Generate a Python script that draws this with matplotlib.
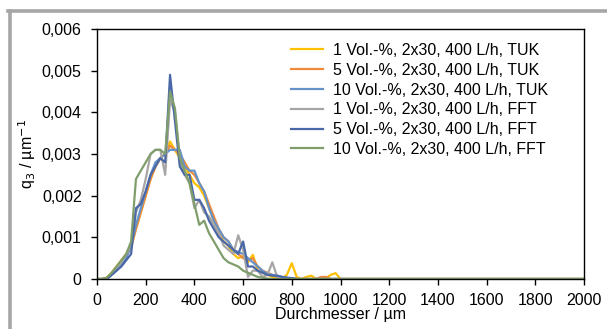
import matplotlib
matplotlib.use("Agg")
import matplotlib.pyplot as plt
from matplotlib.ticker import FuncFormatter, MultipleLocator
from matplotlib.lines import Line2D

plt.rcParams['font.family'] = ['Liberation Sans', 'DejaVu Sans']

# Durchmesser grid (µm)
x = [0, 20, 40, 60, 80, 100, 120, 140, 160, 180, 200, 220, 240, 260, 280, 300,
     320, 340, 360, 380, 400, 420, 440, 460, 480, 500, 520, 540, 560, 580, 600,
     620, 640, 660, 680, 700, 720, 740, 760, 780, 800, 820, 840, 860, 880, 900,
     920, 940, 960, 980, 1000, 2000]

tuk_1 = [0, 0, 0.00003, 0.00015, 0.0003, 0.00045, 0.0006, 0.0008, 0.0012, 0.0016,
         0.002, 0.0024, 0.0027, 0.0029, 0.003, 0.0033, 0.0031, 0.0029, 0.0027, 0.0025,
         0.0023, 0.0022, 0.002, 0.0017, 0.0014, 0.0011, 0.0009, 0.0008, 0.0006, 0.0005,
         0.00055, 0.0004, 0.00058, 0.0002, 0.00015, 0.0001, 0.00005, 0, 0.00002, 0.0001,
         0.00038, 0.00005, 0, 0.00005, 0.00008, 0, 0, 0.00002, 0.0001, 0.00014, 0, 0]
tuk_5 = [0, 0, 0.00003, 0.00012, 0.00025, 0.0004, 0.00055, 0.00075, 0.0012, 0.0016,
         0.002, 0.0024, 0.0027, 0.0029, 0.003, 0.0032, 0.0031, 0.003, 0.0028, 0.0026,
         0.0025, 0.0023, 0.0021, 0.0018, 0.0015, 0.0012, 0.001, 0.0009, 0.0007, 0.0006,
         0.0005, 0.00045, 0.0005, 0.0003, 0.0002, 0.00015, 0.0001, 0.00005, 0.00003, 0.00002,
         0.00002, 0, 0, 0, 0, 0, 0.00005, 0.00005, 0, 0, 0, 0]
tuk_10 = [0, 0, 0, 0.0001, 0.0002, 0.00035, 0.0005, 0.0008, 0.0013, 0.0017,
          0.0021, 0.0025, 0.0028, 0.0029, 0.003, 0.0031, 0.0031, 0.0031, 0.0027, 0.0026,
          0.0026, 0.0023, 0.0021, 0.0017, 0.0014, 0.0012, 0.001, 0.0009, 0.0007, 0.00065,
          0.0006, 0.0005, 0.0004, 0.0003, 0.0002, 0.00012, 0.0001, 0.00008, 0.00005, 0.00003,
          0.00002, 0, 0, 0, 0, 0, 0, 0, 0, 0, 0, 0]
fft_1 = [0, 0, 0, 0.0001, 0.00025, 0.0004, 0.0006, 0.0008, 0.0016, 0.0019,
         0.0024, 0.003, 0.0031, 0.0031, 0.0025, 0.0043, 0.004, 0.0029, 0.0025, 0.0023,
         0.0017, 0.0019, 0.0016, 0.0015, 0.0013, 0.0011, 0.0008, 0.0007, 0.0006, 0.00105,
         0.0007, 0.00005, 0.0002, 0.0002, 0.00005, 0.0001, 0.0004, 0.00005, 0, 0,
         0, 0, 0, 0, 0, 0, 0, 0, 0, 0, 0, 0]
fft_5 = [0, 0, 0, 0.0001, 0.0002, 0.0003, 0.00045, 0.0006, 0.0017, 0.0018,
         0.0021, 0.0025, 0.0027, 0.0029, 0.0028, 0.0049, 0.0038, 0.0027, 0.0025, 0.0025,
         0.0019, 0.0019, 0.0017, 0.0014, 0.0012, 0.001, 0.0009, 0.0008, 0.0007, 0.0006,
         0.0009, 0.0003, 0.0003, 0.0002, 0.00015, 0.0001, 0.00008, 0.00008, 0.00005, 0.00003,
         0.00002, 0, 0, 0, 0, 0, 0, 0, 0, 0, 0, 0]
fft_10 = [0, 0, 0.00003, 0.00015, 0.0003, 0.00045, 0.0006, 0.0009, 0.0024, 0.0026,
          0.0028, 0.003, 0.0031, 0.0031, 0.003, 0.0045, 0.0041, 0.0029, 0.0026, 0.0023,
          0.0018, 0.0013, 0.0014, 0.0011, 0.0009, 0.0007, 0.0005, 0.0004, 0.00035, 0.0003,
          0.0002, 0.00015, 0.0001, 0.00005, 0.00003, 0.00001, 0, 0, 0, 0,
          0, 0, 0, 0, 0, 0, 0, 0, 0, 0, 0, 0]

labels = ["1 Vol.-%, 2x30, 400 L/h, TUK", "5 Vol.-%, 2x30, 400 L/h, TUK",
          "10 Vol.-%, 2x30, 400 L/h, TUK", "1 Vol.-%, 2x30, 400 L/h, FFT",
          "5 Vol.-%, 2x30, 400 L/h, FFT", "10 Vol.-%, 2x30, 400 L/h, FFT"]
series = [tuk_1, tuk_5, tuk_10, fft_1, fft_5, fft_10]
colors = ['#FFC000', '#EE8A3C', '#6592C8', '#A8A6A4', '#4A68A8', '#809E6C']

fig = plt.figure(figsize=(6.07, 3.29), dpi=100)
ax = fig.add_axes([97/607, 1-279/329, 487/607, 250/329])

for y, c, lab in zip(series, colors, labels):
    ax.plot(x, y, color=c, lw=1.6, label=lab)

ax.set_xlim(0, 2000)
ax.set_ylim(0, 0.006)
ax.xaxis.set_major_locator(MultipleLocator(200))
ax.yaxis.set_major_locator(MultipleLocator(0.001))
ax.yaxis.set_major_formatter(FuncFormatter(
    lambda v, p: "0" if abs(v) < 1e-12 else ("%.3f" % v).replace(".", ",")))
ax.tick_params(direction='out', length=4, width=1, labelsize=11.5, color='black')
ax.tick_params(axis='y', pad=7)
ax.tick_params(axis='x', pad=6)
for s in ax.spines.values():
    s.set_linewidth(1)
    s.set_color('black')

ax.set_xlabel("Durchmesser / µm", fontsize=11.5, labelpad=-1)
ax.set_ylabel("q$_3$ / µm$^{-1}$", fontsize=11.5, labelpad=3)

ax.legend(loc='upper left', bbox_to_anchor=(291/607, 1-43/329),
          bbox_transform=fig.transFigure, frameon=False, fontsize=11.5,
          handlelength=2.0, handletextpad=0.6, borderpad=0, borderaxespad=0,
          labelspacing=0.3)

# grey frame remnants of the original figure
fig.add_artist(Line2D([8/607, 1], [1-11/329, 1-11/329], color='#A6A6A6', lw=2.6,
                      transform=fig.transFigure))
fig.add_artist(Line2D([10/607, 10/607], [0, 1-11/329], color='#A6A6A6', lw=2.6,
                      transform=fig.transFigure))

fig.savefig("out.png", dpi=100)
